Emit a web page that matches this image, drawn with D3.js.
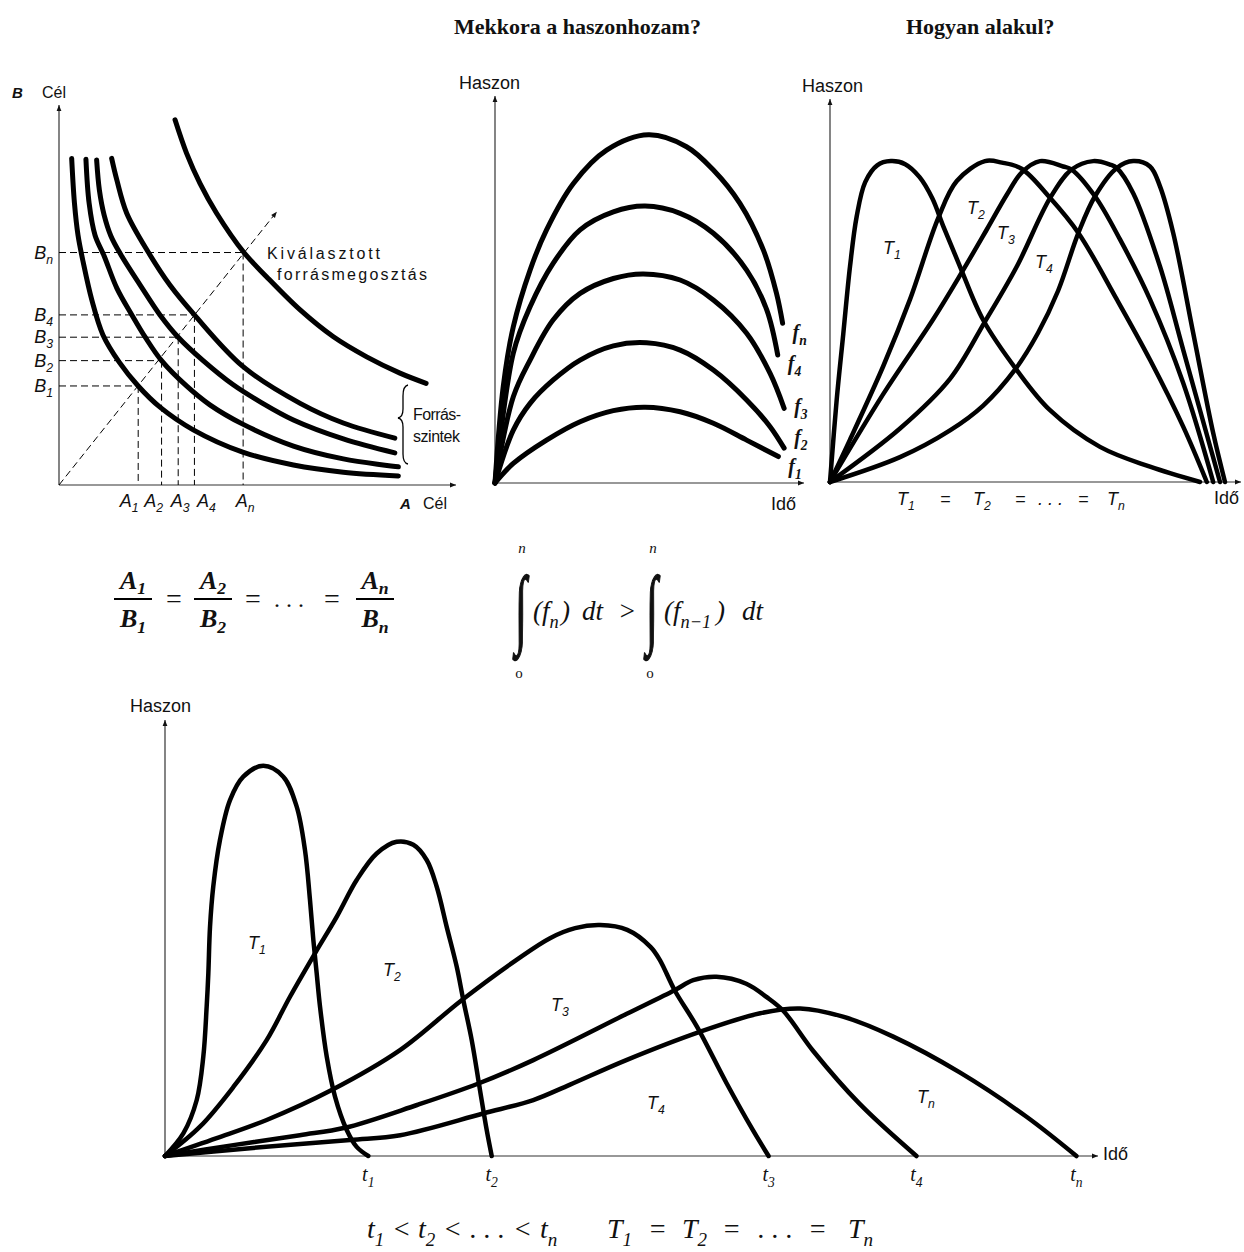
<!DOCTYPE html>
<html>
<head>
<meta charset="utf-8">
<script src="https://cdn.jsdelivr.net/npm/d3@7"></script>
<style>
body { margin: 0; background: #fff; }
.sans { font-family: "Liberation Sans", Arial, sans-serif; fill: #111; }
.serif { font-family: "Liberation Serif", "Times New Roman", serif; fill: #111; }
</style>
</head>
<body>
<div id="chart"></div>
<script>
// ---- panel 1: goal A vs goal B, one curve per resource level
var levelNames = ["1", "2", "3", "4", "n"];
var aLevels = [20.0, 25.9, 30.1, 34.2, 46.5];
var bLevels = [26.2, 32.9, 39.1, 45.0, 61.5];
var splitTip = [55.0, 72.3];
var level1 = [[3.2,86.4],[3.9,74.6],[4.8,66.1],[6.1,59.0],[8.3,48.9],[11.1,39.7],[15.2,32.5],[20.0,26.2],[25.5,20.6],[33.9,14.6],[46.4,8.7],[59.2,5.3],[71.8,3.4],[85.7,2.4]];
var level2 = [[6.8,86.2],[7.6,74.6],[9.1,66.1],[11.4,60.6],[14.6,52.1],[18.4,45.0],[21.9,38.9],[25.9,32.9],[32.2,26.2],[38.1,21.2],[46.4,16.1],[59.2,10.3],[71.8,6.9],[85.7,4.8]];
var level3 = [[9.5,86.0],[10.2,78.0],[11.4,71.4],[13.1,65.9],[15.7,60.8],[20.5,52.9],[25.5,45.0],[30.1,39.1],[36.4,32.9],[44.0,26.5],[50.8,22.0],[59.2,17.2],[71.8,12.2],[84.8,8.5]];
var level4 = [[13.3,86.4],[14.6,80.7],[17.1,71.9],[22.6,61.5],[28.0,52.9],[34.2,45.0],[46.5,31.3],[60.9,21.6],[71.8,16.4],[84.8,12.4]];
var levelN = [[29.3,96.6],[32.2,87.8],[35.6,79.8],[39.8,71.9],[46.7,61.5],[52.4,55.1],[60.9,46.3],[69.3,39.2],[77.7,33.9],[86.1,29.6],[92.7,26.9]];

// ---- panel 2: yield over time (f1 .. fn)
var yieldNames = ["1", "2", "3", "4", "n"];
var yieldF1 = [[0,0],[6.0,5.1],[16.9,11.2],[27.9,16.0],[38.8,18.9],[49.2,19.8],[60.7,18.6],[71.6,15.6],[82.5,11.2],[92.9,6.9]];
var yieldF2 = [[0,0],[6.0,13.8],[11.5,20.8],[19.1,26.9],[27.9,32.1],[38.8,35.8],[49.7,36.6],[60.7,34.7],[71.6,29.5],[82.5,21.7],[90.2,14.7],[94.8,9.1]];
var yieldF3 = [[0,0],[6.0,22.5],[11.5,32.1],[19.1,42.6],[27.9,49.5],[38.8,53.4],[48.6,54.6],[60.7,53.0],[71.6,47.8],[82.5,39.1],[90.2,28.6],[94.8,19.5]];
var yieldF4 = [[0,0],[6.0,33.9],[11.5,46.0],[19.1,57.4],[27.9,66.1],[38.8,70.8],[49.2,72.3],[60.7,70.4],[71.6,65.2],[82.5,55.6],[89.1,45.2],[92.7,33.4]];
var yieldFn = [[0,0],[2.7,25.2],[6.0,40.8],[11.5,55.6],[16.9,66.1],[25.7,78.2],[36.6,86.9],[50.3,90.9],[62.8,87.8],[71.6,81.7],[80.3,73.0],[88.0,60.8],[92.3,49.5],[94.3,41.7]];

// ---- panel 3: same total, different shape (T1 .. Tn)
var shapeT1 = [[0,0],[1.67,21.5],[3.33,38.9],[5,56.4],[6.67,69.5],[8.8,78.5],[11.8,82.9],[15.2,84.0],[18.8,83.2],[22.4,79.8],[25.6,74.2],[28.3,67.0],[32.5,56.4],[38.3,42.4],[46.7,29.3],[55,18.8],[67.5,9.2],[80,4.0],[92.5,0]];
var shapeT2 = [[0,0],[5,11.1],[13.3,30.3],[20,47.8],[27.1,69.2],[31.7,78.8],[38.75,84.0],[43,83.6],[47.9,82.0],[55,74.4],[62.1,65.2],[71.7,47.8],[80,32.0],[88.3,14.5],[94.2,0]];
var shapeT3 = [[0,0],[13.3,23.0],[25.8,42.6],[32.9,54.8],[39.2,66.1],[44.2,75.2],[47.9,81.0],[52.5,84.0],[58.3,82.6],[60.4,81.8],[66.25,74.8],[72.5,63.5],[80,47.8],[88.3,25.9],[95.8,0]];
var shapeT4 = [[0,0],[17.5,14.0],[30,27.0],[38.75,42.0],[46.7,56.4],[55,74.3],[60.4,81.8],[65.8,84.0],[70,83.1],[71.7,82.2],[75.8,75.6],[82.5,56.4],[88.3,34.6],[97.5,0]];
var shapeTn = [[0,0],[17.5,6.5],[30,13.5],[38.3,20.0],[46.25,29.4],[52,39.0],[57,50.0],[62.1,65.2],[66.25,74.8],[71.7,82.2],[75.8,84.0],[80,82.6],[82.5,77.4],[85.8,65.2],[90.8,39.0],[95.8,12.8],[98.75,0]];

// ---- bottom: same total, different durations (t1 < t2 < ... < tn)
var spanNames = ["1", "2", "3", "4", "n"];
var spanT1 = [[0,0],[1.97,5.2],[3.41,12.9],[4.12,22.9],[4.48,34.4],[4.66,42.1],[4.84,52.8],[5.19,62.1],[5.91,72.8],[6.99,82.0],[8.42,87.4],[10.57,89.9],[12.72,87.4],[14.16,80.5],[15.05,70.5],[15.59,59.0],[15.95,49.8],[16.31,42.1],[16.67,34.4],[17.39,22.9],[18.28,13.7],[19.54,6.0],[20.61,2.1],[21.86,0]];
var spanT2 = [[0,0],[3.76,6.75],[7.35,15.9],[10.93,26.7],[13.44,36.7],[16.13,46.7],[18.46,55.1],[20.61,63.6],[22.76,69.7],[24.91,72.4],[26.7,71.7],[28.14,68.2],[29.21,62.1],[30.29,52.8],[31.37,43.6],[32.08,35.9],[32.98,26.7],[33.87,15.2],[34.59,6.0],[35.13,0]];
var spanT3 = [[0,0],[5.56,4.1],[10.93,8.3],[17.92,15.2],[25.27,24.4],[31.9,35.9],[37.8,45.2],[41.4,50.2],[44.1,52.5],[46.8,53.2],[49.7,52.1],[52.2,48.2],[53.2,45.2],[54.8,38.2],[57.2,29.8],[60.4,16.7],[63.2,6.0],[64.9,0]];
var spanT4 = [[0,0],[7.35,2.5],[14.5,4.8],[19.35,6.5],[27.1,11.75],[33.7,16.7],[39.6,22.1],[49.6,32.7],[54.8,38.2],[56.8,40.5],[59.3,41.3],[62.5,39.7],[64.7,36.6],[66.5,33.4],[69.7,24.2],[74.7,12.0],[80.8,0]];
var spanTn = [[0,0],[9.14,1.8],[19.9,3.7],[25.3,4.8],[34.2,9.8],[39.6,12.9],[43.5,16.4],[49.6,22.1],[57.5,28.6],[64.0,32.9],[68.3,34.0],[72.9,32.1],[78.3,27.5],[85.5,19.2],[92.6,9.1],[98.0,0]];

var svg = d3.select("#chart").append("svg")
	.attr("width", 1244)
	.attr("height", 1252)
	.style("display", "block");
svg.append("rect").attr("width", 1244).attr("height", 1252).attr("fill", "#fff");

svg.append("defs").append("marker")
	.attr("id", "arr")
	.attr("viewBox", "0 0 10 10")
	.attr("refX", 10).attr("refY", 5)
	.attr("markerWidth", 9).attr("markerHeight", 6)
	.attr("markerUnits", "userSpaceOnUse")
	.attr("orient", "auto")
	.append("path").attr("d", "M0,1 L10,5 L0,9 z").attr("fill", "#111");

var smooth = d3.curveCatmullRom.alpha(0.5);

function drawAxes(g, x, y, xTip, yTip){
	g.append("line")
		.attr("x1", x(0)).attr("y1", y(0)).attr("x2", x(0)).attr("y2", yTip)
		.attr("stroke", "#333").attr("stroke-width", 1.2).attr("marker-end", "url(#arr)");
	g.append("line")
		.attr("x1", x(0)).attr("y1", y(0)).attr("x2", xTip).attr("y2", y(0))
		.attr("stroke", "#333").attr("stroke-width", 1.2).attr("marker-end", "url(#arr)");
}

function drawCurves(g, x, y, series, width){
	var line = d3.line()
		.x(function(d){ return x(d[0]); })
		.y(function(d){ return y(d[1]); })
		.curve(smooth);
	g.selectAll("path.curve")
		.data(series)
		.enter()
		.append("path")
		.attr("class", "curve")
		.attr("d", line)
		.attr("fill", "none")
		.attr("stroke", "#000")
		.attr("stroke-width", width)
		.attr("stroke-linecap", "round")
		.attr("stroke-linejoin", "round");
}

// parts: string, or list of [text, isSubscript]
function addText(g, x, y, parts, opt){
	opt = opt || {};
	var size = opt.size || 16;
	var t = g.append("text")
		.attr("x", x).attr("y", y)
		.attr("class", opt.cls || "sans")
		.attr("font-size", size)
		.attr("font-style", opt.italic ? "italic" : null)
		.attr("font-weight", opt.bold ? "bold" : null)
		.attr("text-anchor", opt.anchor || "start");
	if (opt.len) t.attr("textLength", opt.len).attr("lengthAdjust", "spacing");
	if (typeof parts === "string") parts = [[parts]];
	var shift = opt.shift || Math.round(size * 0.28), low = false;
	parts.forEach(function(p){
		var s = t.append("tspan").text(p[0]);
		if (p[1]){
			s.attr("font-size", size * 0.68);
			if (!low){ s.attr("dy", shift); low = true; }
		} else if (low){
			s.attr("dy", -shift); low = false;
		}
	});
	return t;
}

// a row of separate tokens: [x, parts]
function addRow(g, y, tokens, opt){
	tokens.forEach(function(tk){ addText(g, tk[0], y, tk[1], opt); });
}

// titles
addText(svg, 454, 34, "Mekkora a haszonhozam?", {cls: "serif", size: 22, bold: true});
addText(svg, 906, 34, "Hogyan alakul?", {cls: "serif", size: 22, bold: true});

// ===== panel 1
var p1 = svg.append("g");
var x1 = d3.scaleLinear().domain([0, 100]).range([59, 455]);
var y1 = d3.scaleLinear().domain([0, 100]).range([485, 107]);
drawAxes(p1, x1, y1, 456, 105);

p1.selectAll("line.hg")
	.data(bLevels)
	.enter()
	.append("line")
	.attr("x1", x1(0))
	.attr("x2", function(d, i){ return x1(aLevels[i]); })
	.attr("y1", function(d){ return y1(d); })
	.attr("y2", function(d){ return y1(d); })
	.attr("stroke", "#000").attr("stroke-width", 1).attr("stroke-dasharray", "7,4");
p1.selectAll("line.vg")
	.data(aLevels)
	.enter()
	.append("line")
	.attr("x1", function(d){ return x1(d); })
	.attr("x2", function(d){ return x1(d); })
	.attr("y1", function(d, i){ return y1(bLevels[i]); })
	.attr("y2", y1(0))
	.attr("stroke", "#000").attr("stroke-width", 1).attr("stroke-dasharray", "7,4");
p1.append("line")
	.attr("x1", x1(0)).attr("y1", y1(0))
	.attr("x2", x1(splitTip[0])).attr("y2", y1(splitTip[1]))
	.attr("stroke", "#000").attr("stroke-width", 1).attr("stroke-dasharray", "7,4")
	.attr("marker-end", "url(#arr)");

drawCurves(p1, x1, y1, [level1, level2, level3, level4, levelN], 5);

addText(p1, 12, 98, "B", {bold: true, italic: true, size: 15});
addText(p1, 42, 98, "Cél", {size: 16});
addText(p1, 400, 509, "A", {bold: true, italic: true, size: 15});
addText(p1, 423, 509, "Cél", {size: 16});

levelNames.forEach(function(n, i){
	addText(p1, 53, y1(bLevels[i]) + 6, [["B"], [n, true]], {italic: true, size: 18, anchor: "end"});
});
var aShift = [-9, -8, 2, 12, 2];
levelNames.forEach(function(n, i){
	addText(p1, x1(aLevels[i]) + aShift[i], 507, [["A"], [n, true]], {italic: true, size: 18, anchor: "middle"});
});

addText(p1, 267, 259, "Kiválasztott", {size: 16, len: 113});
addText(p1, 277, 280, "forrásmegosztás", {size: 16, len: 150});

p1.append("path")
	.attr("d", "M408,385 Q403,386 403,396 L403,409 Q403,417 398,418 Q403,419 403,427 L403,454 Q403,463 408,464")
	.attr("fill", "none").attr("stroke", "#000").attr("stroke-width", 1.3);
addText(p1, 413, 420, "Forrás-", {size: 16, len: 48});
addText(p1, 413, 442, "szintek", {size: 16, len: 47});

// ===== panel 2
var p2 = svg.append("g");
var x2 = d3.scaleLinear().domain([0, 100]).range([495, 800]);
var y2 = d3.scaleLinear().domain([0, 100]).range([483, 100]);
drawAxes(p2, x2, y2, 804, 96);
var yieldSeries = [yieldF1, yieldF2, yieldF3, yieldF4, yieldFn];
drawCurves(p2, x2, y2, yieldSeries, 5);
addText(p2, 459, 89, "Haszon", {size: 18});
addText(p2, 771, 510, "Idő", {size: 18});
var fLabelDy = [10, -10, -1, 9, 10];
yieldSeries.forEach(function(s, i){
	var end = s[s.length - 1];
	addText(p2, x2(end[0]) + 10, y2(end[1]) + fLabelDy[i] + 6, [["f"], [yieldNames[i], true]],
		{cls: "serif", italic: true, bold: true, size: 20});
});

// ===== panel 3
var p3 = svg.append("g");
var x3 = d3.scaleLinear().domain([0, 100]).range([830, 1230]);
var y3 = d3.scaleLinear().domain([0, 100]).range([482, 100]);
drawAxes(p3, x3, y3, 1241, 99);
drawCurves(p3, x3, y3, [shapeT1, shapeT2, shapeT3, shapeT4, shapeTn], 4.5);
addText(p3, 802, 92, "Haszon", {size: 18});
addText(p3, 1214, 504, "Idő", {size: 18});
addText(p3, 883, 254, [["T"], ["1", true]], {italic: true, size: 18});
addText(p3, 967, 214, [["T"], ["2", true]], {italic: true, size: 18});
addText(p3, 997, 239, [["T"], ["3", true]], {italic: true, size: 18});
addText(p3, 1035, 268, [["T"], ["4", true]], {italic: true, size: 18});
addRow(p3, 505, [
	[897, [["T"], ["1", true]]], [940, "="], [973, [["T"], ["2", true]]], [1015, "="],
	[1038, ". . ."], [1078, "="], [1107, [["T"], ["n", true]]]
], {italic: true, size: 18});

// ===== formulas under the top panels
var fr = svg.append("g");
var fracs = [{c: 133, n: "1"}, {c: 213, n: "2"}, {c: 375, n: "n"}];
fracs.forEach(function(f){
	addText(fr, f.c, 589, [["A"], [f.n, true]], {cls: "serif", italic: true, bold: true, size: 26, anchor: "middle", shift: 5});
	addText(fr, f.c, 627, [["B"], [f.n, true]], {cls: "serif", italic: true, bold: true, size: 26, anchor: "middle", shift: 6});
	fr.append("line").attr("x1", f.c - 19).attr("x2", f.c + 19).attr("y1", 599).attr("y2", 599)
		.attr("stroke", "#000").attr("stroke-width", 2);
});
[174, 253, 332].forEach(function(x){
	addText(fr, x, 608, "=", {cls: "serif", size: 28, anchor: "middle"});
});
addText(fr, 289, 607, ". . .", {cls: "serif", size: 24, anchor: "middle"});

[515, 646].forEach(function(x){
	fr.append("text").attr("class", "serif").attr("font-size", 46).attr("font-weight", "bold")
		.attr("stroke", "#111").attr("stroke-width", 0.9)
		.attr("transform", "translate(" + x + ",637) scale(0.95,1.9)")
		.text("∫");
	addText(fr, x + 7, 553, "n", {cls: "serif", italic: true, size: 15, anchor: "middle"});
	addText(fr, x + 4, 678, "o", {cls: "serif", size: 15, anchor: "middle"});
});
addRow(fr, 620, [
	[533, "("], [542, [["f"], ["n", true]]], [561, ")"], [582, "dt"], [618, ">"],
	[664, "("], [673, [["f"], ["n−1", true]]], [716, ")"], [742, "dt"]
], {cls: "serif", italic: true, size: 27});

// ===== bottom chart
var p4 = svg.append("g");
var x4 = d3.scaleLinear().domain([0, 100]).range([165, 1095]);
var y4 = d3.scaleLinear().domain([0, 100]).range([1156, 722]);
drawAxes(p4, x4, y4, 1098, 720);
var spanSeries = [spanT1, spanT2, spanT3, spanT4, spanTn];
drawCurves(p4, x4, y4, spanSeries, 4.5);
addText(p4, 130, 712, "Haszon", {size: 18});
addText(p4, 1103, 1160, "Idő", {size: 18});
addText(p4, 248, 949, [["T"], ["1", true]], {italic: true, size: 18});
addText(p4, 383, 976, [["T"], ["2", true]], {italic: true, size: 18});
addText(p4, 551, 1011, [["T"], ["3", true]], {italic: true, size: 18});
addText(p4, 647, 1109, [["T"], ["4", true]], {italic: true, size: 18});
addText(p4, 917, 1103, [["T"], ["n", true]], {italic: true, size: 18});
spanSeries.forEach(function(s, i){
	var end = s[s.length - 1];
	addText(p4, x4(end[0]), 1181, [["t"], [spanNames[i], true]], {cls: "serif", italic: true, size: 20, anchor: "middle"});
});
addRow(p4, 1238, [
	[367, [["t"], ["1", true]]], [392, "<"], [418, [["t"], ["2", true]]], [443, "<"],
	[470, ". . ."], [513, "<"], [540, [["t"], ["n", true]]],
	[607, [["T"], ["1", true]]], [648, "="], [682, [["T"], ["2", true]]], [722, "="],
	[758, ". . ."], [808, "="], [848, [["T"], ["n", true]]]
], {cls: "serif", italic: true, size: 28});
</script>
</body>
</html>
